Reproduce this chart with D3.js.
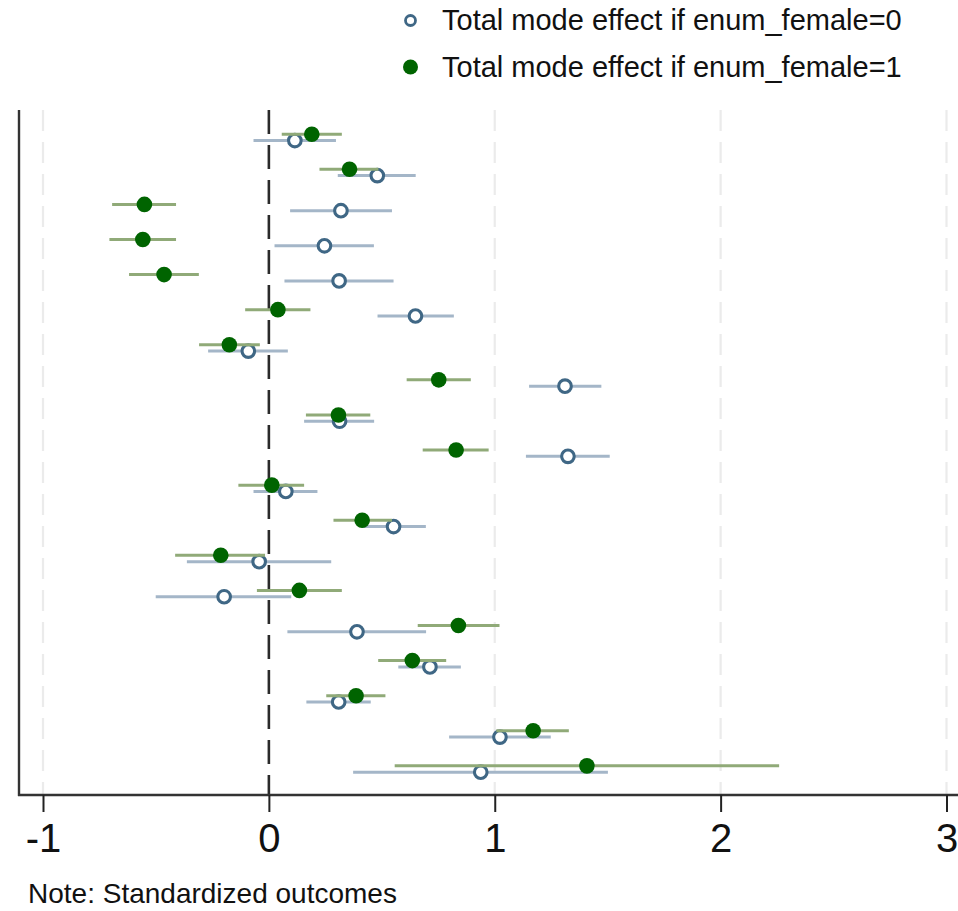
<!DOCTYPE html>
<html>
<head>
<meta charset="utf-8">
<script src="https://cdn.jsdelivr.net/npm/d3@7"></script>
<style>
  body { margin: 0; background: #fff; }
  text { font-family: "Liberation Sans", Arial, sans-serif; }
</style>
</head>
<body>
<svg id="chart" width="958" height="911"></svg>
<script>
// rows from top (1) to bottom (19)
var rows = d3.range(1, 20);

// enum_female = 0 (hollow, blue)
var est0 = [0.115, 0.480, 0.319, 0.246, 0.311, 0.649, -0.091, 1.311, 0.313, 1.324,
            0.075, 0.552, -0.043, -0.198, 0.390, 0.713, 0.309, 1.023, 0.938];
var lo0  = [-0.068, 0.305, 0.094, 0.025, 0.069, 0.481, -0.269, 1.152, 0.156, 1.138,
            -0.068, 0.410, -0.363, -0.501, 0.082, 0.573, 0.166, 0.798, 0.373];
var hi0  = [0.297, 0.650, 0.545, 0.465, 0.552, 0.819, 0.084, 1.472, 0.466, 1.509,
            0.215, 0.695, 0.276, 0.099, 0.696, 0.850, 0.451, 1.248, 1.501];

// enum_female = 1 (filled, green)
var est1 = [0.190, 0.357, -0.551, -0.558, -0.464, 0.040, -0.175, 0.752, 0.308, 0.829,
            0.013, 0.413, -0.213, 0.135, 0.839, 0.635, 0.386, 1.170, 1.408];
var lo1  = [0.057, 0.224, -0.694, -0.706, -0.619, -0.105, -0.309, 0.610, 0.164, 0.681,
            -0.135, 0.286, -0.415, -0.053, 0.659, 0.484, 0.254, 1.007, 0.557];
var hi1  = [0.323, 0.485, -0.411, -0.411, -0.310, 0.184, -0.040, 0.894, 0.449, 0.973,
            0.156, 0.545, -0.017, 0.323, 1.021, 0.785, 0.516, 1.328, 2.259];

var xTicks = [-1, 0, 1, 2, 3];
var legendLabels = ["Total mode effect if enum_female=0", "Total mode effect if enum_female=1"];
var note = "Note: Standardized outcomes";

var svg = d3.select("#chart"),
    W = +svg.attr("width");

var plotLeft = 19, plotTop = 110, plotBottom = 795;

var x = d3.scaleLinear().domain([-1, 3]).range([43, 946.5]);
var y = d3.scaleLinear().domain([0.22, 19.74]).range([plotTop, plotBottom]);

// grid lines
svg.append("g").selectAll("line")
  .data(xTicks.filter(function(d) { return d !== 0; }))
  .enter().append("line")
  .attr("x1", function(d) { return x(d); }).attr("x2", function(d) { return x(d); })
  .attr("y1", plotTop).attr("y2", plotBottom)
  .attr("stroke", "#ebebeb").attr("stroke-width", 2.2)
  .attr("stroke-dasharray", "21,11");

// zero reference line
svg.append("line")
  .attr("x1", x(0)).attr("x2", x(0))
  .attr("y1", plotTop).attr("y2", plotBottom)
  .attr("stroke", "#2a2a2a").attr("stroke-width", 2.6)
  .attr("stroke-dasharray", "24,11");

// axes frame
svg.append("line")
  .attr("x1", plotLeft).attr("x2", plotLeft)
  .attr("y1", plotTop).attr("y2", plotBottom + 1)
  .attr("stroke", "#333").attr("stroke-width", 2.4);
svg.append("line")
  .attr("x1", plotLeft - 1).attr("x2", W)
  .attr("y1", plotBottom).attr("y2", plotBottom)
  .attr("stroke", "#333").attr("stroke-width", 2.4);

var xAxis = svg.append("g")
  .attr("transform", "translate(0," + plotBottom + ")")
  .call(d3.axisBottom(x).tickValues(xTicks).tickSize(17).tickPadding(12)
        .tickFormat(function(d) { return String(d); }));
xAxis.select(".domain").remove();
xAxis.selectAll(".tick line").attr("stroke", "#222").attr("stroke-width", 2);
xAxis.selectAll(".tick text")
  .attr("fill", "#111")
  .style("font-size", "40px")
  .style("font-family", "'Liberation Sans', Arial, sans-serif");

function drawSeries(est, lo, hi, off, ciColor, filled) {
  var g = svg.append("g");
  g.selectAll("line.ci").data(rows).enter().append("line")
    .attr("class", "ci")
    .attr("x1", function(d, i) { return x(lo[i]); })
    .attr("x2", function(d, i) { return x(hi[i]); })
    .attr("y1", function(d) { return y(d + off); })
    .attr("y2", function(d) { return y(d + off); })
    .attr("stroke", ciColor).attr("stroke-width", 3);
  g.selectAll("circle").data(rows).enter().append("circle")
    .attr("cx", function(d, i) { return x(est[i]); })
    .attr("cy", function(d) { return y(d + off); })
    .attr("r", filled ? 7.8 : 6.3)
    .attr("fill", filled ? "#006400" : "#fff")
    .attr("stroke", filled ? "none" : "#3f6785")
    .attr("stroke-width", filled ? 0 : 3.1);
}

drawSeries(est0, lo0, hi0, 0.09, "#a4b6c8", false);
drawSeries(est1, lo1, hi1, -0.09, "#90aa78", true);

// legend
var leg = svg.append("g");
leg.selectAll("circle").data(legendLabels).enter().append("circle")
  .attr("cx", 410.5)
  .attr("cy", function(d, i) { return 20.5 + i * 46.5; })
  .attr("r", function(d, i) { return i ? 7.5 : 5; })
  .attr("fill", function(d, i) { return i ? "#006400" : "#fff"; })
  .attr("stroke", function(d, i) { return i ? "none" : "#3f6785"; })
  .attr("stroke-width", 2.8);
leg.selectAll("text").data(legendLabels).enter().append("text")
  .attr("x", 442)
  .attr("y", function(d, i) { return 30 + i * 46.5; })
  .attr("fill", "#111")
  .style("font-size", "29px")
  .text(function(d) { return d; });

svg.append("text")
  .attr("x", 28).attr("y", 903)
  .attr("fill", "#111")
  .style("font-size", "28px")
  .text(note);
</script>
</body>
</html>
